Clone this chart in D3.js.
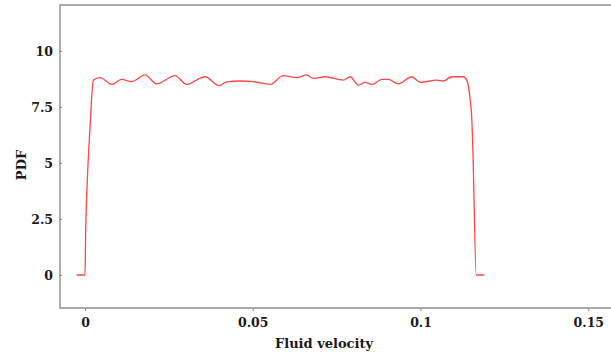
<!DOCTYPE html>
<html>
<head>
<meta charset="utf-8">
<script src="https://cdn.jsdelivr.net/npm/d3@7"></script>
<style>
  body { margin: 0; background: #fff; }
  .tick text { font-family: "DejaVu Serif", serif; font-weight: bold; font-size: 12.5px; fill: #1a1a1a; }
  .title { font-family: "DejaVu Serif", serif; font-weight: bold; font-size: 13px; fill: #1a1a1a; }
</style>
</head>
<body>
<svg id="chart" width="611" height="358"></svg>
<script>
// velocity (x) and pdf (y)
const velocity = [-0.0025, 0, 0.0002, 0.0007, 0.0015, 0.0025, 0.0045, 0.008, 0.0109, 0.0139,
    0.0179, 0.0214, 0.0268, 0.0303, 0.0358, 0.04, 0.0422, 0.0462, 0.0502, 0.0552,
    0.0591, 0.0631, 0.0661, 0.0681, 0.0716, 0.077, 0.079, 0.0815, 0.0835, 0.0855,
    0.0885, 0.0904, 0.0934, 0.0974, 0.0999, 0.1049, 0.1068, 0.1093, 0.1128, 0.1138,
    0.1148, 0.1153, 0.1156, 0.1166, 0.1190];
const pdf = [0, 0, 1.93, 4.24, 6.6, 8.7, 8.81, 8.51, 8.73, 8.63,
    8.93, 8.53, 8.9, 8.51, 8.85, 8.45, 8.62, 8.66, 8.63, 8.51,
    8.9, 8.81, 8.93, 8.78, 8.85, 8.7, 8.85, 8.48, 8.6, 8.51,
    8.73, 8.73, 8.53, 8.85, 8.6, 8.7, 8.66, 8.85, 8.85, 8.7,
    7.8, 6.9, 5.58, 0, 0];
const xTicks = [0, 0.05, 0.1, 0.15];
const yTicks = [0, 2.5, 5, 7.5, 10];

const svg = d3.select('#chart');
const plotLeft = 60, plotTop = 5, plotBottom = 308, plotRight = 611;

const x = d3.scaleLinear().domain([0, 0.15]).range([85, 588.3]);
const y = d3.scaleLinear().domain([0, 10]).range([275, 51]);

// frame: left, top and bottom lines
const axisColor = '#8e8e8e';
svg.append('path')
    .attr('d', `M${plotRight},${plotTop}H${plotLeft}V${plotBottom}H${plotRight}`)
    .attr('fill', 'none')
    .attr('stroke', axisColor)
    .attr('stroke-width', 1.4);

const xAxis = svg.append('g')
    .attr('transform', `translate(0,${plotBottom})`)
    .call(d3.axisBottom(x).tickValues(xTicks).tickFormat(d3.format('')).tickSize(3).tickPadding(7));
xAxis.select('.domain').remove();
xAxis.selectAll('line').attr('stroke', axisColor);

const yAxis = svg.append('g')
    .attr('transform', `translate(${plotLeft + 2},0)`)
    .call(d3.axisLeft(y).tickValues(yTicks).tickFormat(d3.format('')).tickSize(3).tickPadding(6));
yAxis.select('.domain').remove();
yAxis.selectAll('line').attr('stroke', axisColor);

// the curve
const line = d3.line()
    .x((d, i) => x(velocity[i]))
    .y(d => y(d))
    .curve(d3.curveMonotoneX);
svg.append('path')
    .attr('d', line(pdf))
    .attr('fill', 'none')
    .attr('stroke', '#ff4545')
    .attr('stroke-width', 1.3);

svg.append('text')
    .attr('class', 'title')
    .attr('x', 324)
    .attr('y', 348)
    .attr('text-anchor', 'middle')
    .text('Fluid velocity');

svg.append('text')
    .attr('class', 'title')
    .attr('transform', 'translate(26,165) rotate(-90)')
    .attr('text-anchor', 'middle')
    .text('PDF');
</script>
</body>
</html>
